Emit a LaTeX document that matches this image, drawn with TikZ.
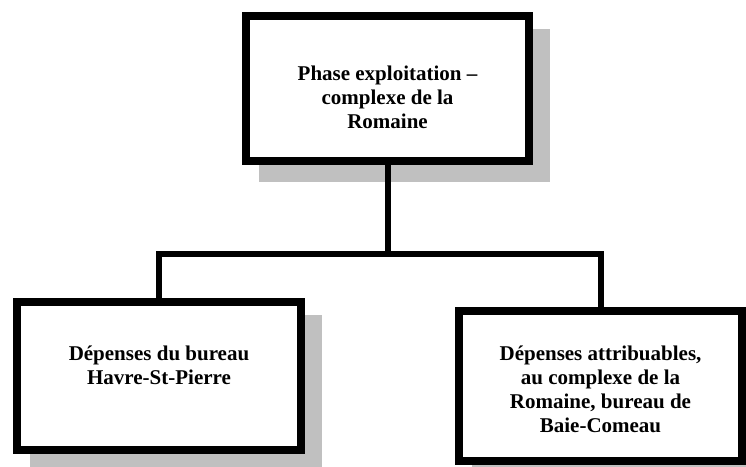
\documentclass[tikz,border=0pt]{standalone}
\usepackage{fontspec}
\setmainfont{Liberation Serif}
\usetikzlibrary{calc,backgrounds}
\definecolor{shadowgray}{HTML}{C0C0C0}
\begin{document}
\begin{tikzpicture}[x=1pt,y=-1pt,
  orgbox/.style={draw=black, line width=7.5pt, fill=white, rectangle, outer sep=0pt, inner sep=0pt},
  txt/.style={font=\fontsize{21}{24}\selectfont\bfseries, align=center, inner sep=0pt},
  conn/.style={draw=black, line width=6pt, line join=miter},
  boxshadow/.style={fill=shadowgray}]
\useasboundingbox (0,0) rectangle (746,466);
% boxes
\node[orgbox, minimum width=283pt, minimum height=145pt] (tp) at (387.5,88.5) {};
\node[orgbox, minimum width=284pt, minimum height=148pt] (bl) at (159,376) {};
\node[orgbox, minimum width=283pt, minimum height=150pt] (br) at (600.5,386) {};
% shadows
\begin{scope}[on background layer]
  \foreach \n in {tp,bl,br}
    \fill[boxshadow] ($(\n.north west)+(13.25,13.25)$) rectangle ($(\n.south east)+(20.75,20.75)$);
\end{scope}
% texts
\node[txt] (ttp) at (387.5,97.4) {Phase exploitation –\\complexe de la\\Romaine};
\node[txt] (tbl) at (159,365) {Dépenses du bureau\\Havre-St-Pierre};
\node[txt] (tbr) at (600.5,389) {Dépenses attribuables,\\au complexe de la\\Romaine, bureau de\\Baie-Comeau};
% connectors
\coordinate (j) at (387.5,254);
\draw[conn] (tp.south) -- (j);
\draw[conn] (bl.north) |- (j) -| (br.north);
\end{tikzpicture}
\end{document}
